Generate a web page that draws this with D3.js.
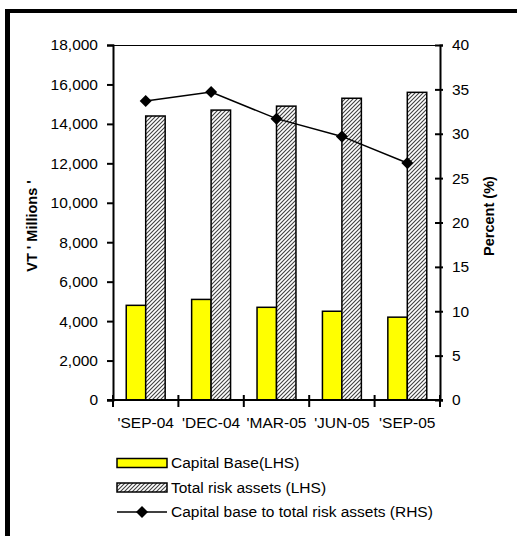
<!DOCTYPE html>
<html>
<head>
<meta charset="utf-8">
<script src="https://cdn.jsdelivr.net/npm/d3@7"></script>
<style>
  html, body { margin: 0; padding: 0; background: #fff; }
  svg { display: block; }
  text { font-family: "Liberation Sans", Arial, sans-serif; fill: #000; }
</style>
</head>
<body>
<svg id="chart" width="517" height="536"></svg>
<script>
const categories = ["'SEP-04", "'DEC-04", "'MAR-05", "'JUN-05", "'SEP-05"];
const capitalBase = [4800, 5100, 4700, 4500, 4200];
const totalRiskAssets = [14400, 14700, 14900, 15300, 15600];
const ratioPercent = [33.7, 34.7, 31.7, 29.7, 26.7];
const leftTicks = [0, 2000, 4000, 6000, 8000, 10000, 12000, 14000, 16000, 18000];
const rightTicks = [0, 5, 10, 15, 20, 25, 30, 35, 40];
const seriesNames = ["Capital Base(LHS)", "Total risk assets (LHS)", "Capital base to total risk assets (RHS)"];

const svg = d3.select("#chart");

// hatch pattern
const defs = svg.append("defs");
const pat = defs.append("pattern")
  .attr("id", "hatch").attr("patternUnits", "userSpaceOnUse")
  .attr("width", 4).attr("height", 4);
pat.append("rect").attr("width", 4).attr("height", 4).attr("fill", "#fff");
pat.append("path").attr("d", "M-1,1 l2,-2 M0,4 l4,-4 M3,5 l2,-2")
  .attr("stroke", "#404040").attr("stroke-width", 1.1);

// outer frame (top and left visible)
svg.append("rect").attr("x", 5).attr("y", 9).attr("width", 512).attr("height", 4).attr("fill", "#000");
svg.append("rect").attr("x", 5).attr("y", 9).attr("width", 5).attr("height", 527).attr("fill", "#000");

const x0 = 113, x1 = 440, yTop = 45, yBot = 400;
const x = d3.scaleBand().domain(categories).range([x0, x1]);
const inner = d3.scaleBand().domain(["cap", "tra"]).range([0, x.bandwidth()]).paddingInner(0).paddingOuter(0.68);
const yL = d3.scaleLinear().domain([0, 18000]).range([yBot, yTop]);
const yR = d3.scaleLinear().domain([0, 40]).range([yBot, yTop]);

// top frame line
svg.append("line").attr("x1", x0).attr("x2", x1).attr("y1", yTop + 0.5).attr("y2", yTop + 0.5)
  .attr("stroke", "#000").attr("stroke-width", 1);

// bars
const g = svg.append("g");
categories.forEach((c, i) => {
  g.append("rect")
    .attr("x", x(c) + inner("cap")).attr("y", yL(capitalBase[i]))
    .attr("width", inner.bandwidth()).attr("height", yBot - yL(capitalBase[i]))
    .attr("fill", "#ffff00").attr("stroke", "#000").attr("stroke-width", 1.5);
  g.append("rect")
    .attr("x", x(c) + inner("tra")).attr("y", yL(totalRiskAssets[i]))
    .attr("width", inner.bandwidth()).attr("height", yBot - yL(totalRiskAssets[i]))
    .attr("fill", "url(#hatch)").attr("stroke", "#000").attr("stroke-width", 1.5);
});

// axes
const fontSize = "15.5px";
const leftAxis = d3.axisLeft(yL).tickValues(leftTicks).tickFormat(d3.format(",")).tickSize(6).tickPadding(9);
const gl = svg.append("g").attr("transform", `translate(${x0},0)`).call(leftAxis);
gl.select(".domain").attr("stroke", "#000").attr("stroke-width", 2);
gl.selectAll(".tick line").attr("stroke", "#000").attr("stroke-width", 2).attr("x1", 1);
gl.selectAll("text").style("font-size", fontSize).attr("font-family", "Liberation Sans, Arial, sans-serif");

const rightAxis = d3.axisRight(yR).tickValues(rightTicks).tickSize(3).tickPadding(9);
const gr = svg.append("g").attr("transform", `translate(${x1},0)`).call(rightAxis);
gr.select(".domain").attr("stroke", "#000").attr("stroke-width", 2);
gr.selectAll(".tick line").attr("stroke", "#000").attr("stroke-width", 2).attr("x1", -5);
gr.selectAll("text").style("font-size", fontSize).attr("font-family", "Liberation Sans, Arial, sans-serif");

// bottom axis
svg.append("line").attr("x1", x0 - 6).attr("x2", x1 + 3).attr("y1", yBot).attr("y2", yBot)
  .attr("stroke", "#000").attr("stroke-width", 2);
const bounds = categories.map(c => x(c)).concat([x1]);
svg.append("g").selectAll("line").data(bounds).join("line")
  .attr("x1", d => d).attr("x2", d => d).attr("y1", yBot - 5).attr("y2", yBot + 7)
  .attr("stroke", "#000").attr("stroke-width", 2);
svg.append("g").selectAll("text").data(categories).join("text")
  .attr("x", d => x(d) + x.bandwidth() / 2).attr("y", 428)
  .attr("text-anchor", "middle").style("font-size", fontSize).text(d => d);

// line series
const line = d3.line().x((d, i) => x(categories[i]) + x.bandwidth() / 2).y(d => yR(d));
svg.append("path").datum(ratioPercent).attr("d", line)
  .attr("fill", "none").attr("stroke", "#000").attr("stroke-width", 1.5);
const diamond = d3.symbol().type(d3.symbolSquare).size(72);
svg.append("g").selectAll("path").data(ratioPercent).join("path")
  .attr("d", diamond)
  .attr("transform", (d, i) => `translate(${x(categories[i]) + x.bandwidth() / 2},${yR(d)}) rotate(45)`)
  .attr("fill", "#000");

// axis titles
svg.append("text").attr("transform", "translate(37,226) rotate(-90)")
  .attr("text-anchor", "middle").style("font-size", "14.5px").style("font-weight", "bold")
  .text("VT ' Millions '");
svg.append("text").attr("transform", "translate(494,216) rotate(-90)")
  .attr("text-anchor", "middle").style("font-size", "14.5px").style("font-weight", "bold")
  .text("Percent (%)");

// legend
const lx = 117, lw = 50, tx = 171;
const rows = [462.5, 487.5, 512];
svg.append("rect").attr("x", lx).attr("y", rows[0] - 4).attr("width", lw).attr("height", 9)
  .attr("fill", "#ffff00").attr("stroke", "#000").attr("stroke-width", 1.5);
svg.append("rect").attr("x", lx).attr("y", rows[1] - 4.5).attr("width", lw).attr("height", 9)
  .attr("fill", "url(#hatch)").attr("stroke", "#000").attr("stroke-width", 1.5);
svg.append("line").attr("x1", lx).attr("x2", lx + lw).attr("y1", rows[2]).attr("y2", rows[2])
  .attr("stroke", "#000").attr("stroke-width", 1.5);
svg.append("path").attr("d", diamond)
  .attr("transform", `translate(${lx + lw / 2},${rows[2]}) rotate(45)`).attr("fill", "#000");
svg.append("g").selectAll("text").data(seriesNames).join("text")
  .attr("x", tx).attr("y", (d, i) => rows[i]).attr("dy", "0.35em")
  .style("font-size", fontSize).text(d => d);
</script>
</body>
</html>
